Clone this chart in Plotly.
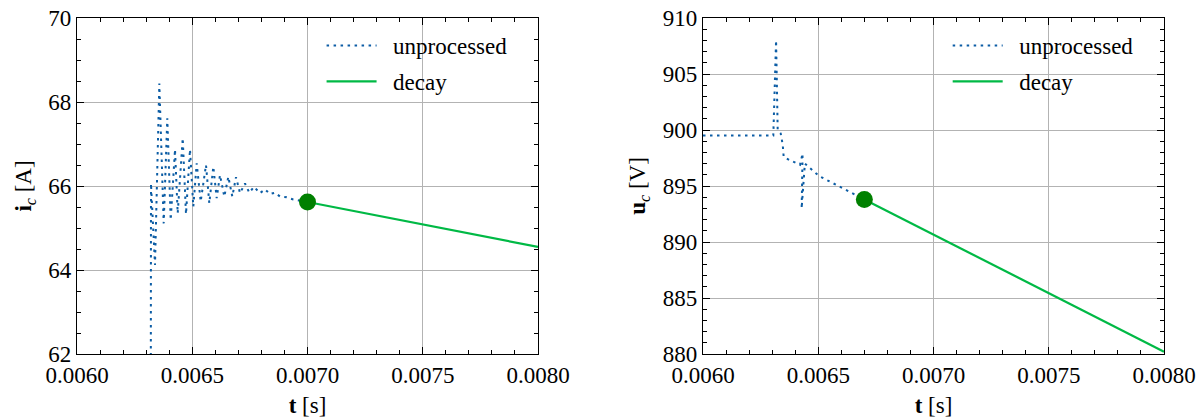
import plotly.graph_objects as go

# ---- capacitor current i_c ----
t_ic_raw = [0.00600, 0.00631, 0.0063210, 0.0063384, 0.0063572, 0.0063761, 0.0063918,
            0.0064065, 0.0064252, 0.0064369, 0.0064586, 0.0064729, 0.0064902, 0.0065046,
            0.0065193, 0.0065366, 0.0065597, 0.0065740, 0.0065914, 0.0066060, 0.0066204,
            0.0066391, 0.0066565, 0.0066738, 0.0066898, 0.0067072, 0.0067289, 0.0067475,
            0.0067679, 0.0067939, 0.0068156, 0.0068373, 0.0068590, 0.0068807, 0.0069097,
            0.0069384, 0.0069675, 0.0070000]
ic_raw = [0.0, 0.0, 66.06, 64.12, 68.44, 65.11, 67.61,
          65.19, 66.87, 65.35, 67.14, 65.33, 66.87, 65.51,
          66.54, 65.63, 66.50, 65.59, 66.46, 65.71, 66.26,
          65.75, 66.22, 65.75, 66.21, 65.83, 66.06, 65.84,
          65.98, 65.83, 65.92, 65.81, 65.84, 65.75, 65.73,
          65.68, 65.65, 65.62]
t_ic_decay = [0.0070, 0.0080]
ic_decay = [65.62, 64.55]
t_ic_start = [0.0070]
ic_start = [65.62]

# ---- capacitor voltage u_c ----
t_uc_raw = [0.00600, 0.006305, 0.006317, 0.006324, 0.006337, 0.006346, 0.006350,
            0.006377, 0.006421, 0.006432, 0.006428, 0.006442, 0.006503, 0.006594,
            0.006652, 0.006700]
uc_raw = [899.5, 899.5, 908.0, 900.0, 899.7, 898.66, 897.6,
          897.3, 896.9, 897.9, 893.0, 897.0, 895.9, 894.9,
          894.3, 893.8]
t_uc_decay = [0.0067, 0.0080]
uc_decay = [893.8, 880.2]
t_uc_start = [0.0067]
uc_start = [893.8]

BLUE = "#0C5DA5"
GREEN = "#00B945"
DOT = "#008000"
FONT = "'Liberation Serif', 'DejaVu Serif', serif"
FS = 23
GAP = "\u00a0\u00a0"

fig = go.Figure()

def add_panel(t_raw, y_raw, t_dec, y_dec, t_s, y_s, xa, ya, leg):
    fig.add_trace(go.Scatter(x=t_raw, y=y_raw, mode="lines", name=GAP + "unprocessed",
                             line=dict(color=BLUE, width=2, dash="2.5px,4.5px"),
                             xaxis=xa, yaxis=ya, legend=leg, legendgroup=leg + "a"))
    fig.add_trace(go.Scatter(x=t_dec, y=y_dec, mode="lines", name=GAP + "decay",
                             line=dict(color=GREEN, width=2.2),
                             xaxis=xa, yaxis=ya, legend=leg, legendgroup=leg + "b"))
    fig.add_trace(go.Scatter(x=t_s, y=y_s, mode="markers", showlegend=False,
                             marker=dict(color=DOT, size=17),
                             xaxis=xa, yaxis=ya))

add_panel(t_ic_raw, ic_raw, t_ic_decay, ic_decay, t_ic_start, ic_start, "x", "y", "legend")
add_panel(t_uc_raw, uc_raw, t_uc_decay, uc_decay, t_uc_start, uc_start, "x2", "y2", "legend2")

tick_font = dict(family=FONT, size=FS, color="black")

def axis_style(dtick, minor_dtick, rng):
    return dict(range=rng, dtick=dtick, showline=True, linecolor="black", linewidth=1.3,
                mirror="ticks", ticks="inside", ticklen=7, tickwidth=1.1, tickcolor="black",
                showgrid=True, gridcolor="#b3b3b3", gridwidth=1, zeroline=False,
                automargin=False,
                minor=dict(ticks="inside", ticklen=4, tickwidth=1, tickcolor="black",
                           dtick=minor_dtick, showgrid=False),
                tickfont=tick_font)

xt = dict(text="<b>t</b> [s]", font=dict(family=FONT, size=FS, color="black"), standoff=10)

fig.update_layout(
    width=1202, height=419,
    font=dict(family=FONT, size=FS, color="black"),
    margin=dict(l=77, r=38, t=18, b=65),
    paper_bgcolor="white", plot_bgcolor="white",
    xaxis=dict(domain=[0, 0.4241], anchor="y", tickformat=".4f", tick0=0.006,
               title=xt, **axis_style(0.0005, 0.0001, [0.006, 0.008])),
    yaxis=dict(domain=[0, 1], anchor="x",
               title=dict(text="<b>i</b><sub><i>c</i></sub> [A]",
                          font=dict(family=FONT, size=FS, color="black"), standoff=10),
               **axis_style(2, 0.5, [62, 70])),
    xaxis2=dict(domain=[0.5759, 1], anchor="y2", tickformat=".4f", tick0=0.006,
                title=xt, **axis_style(0.0005, 0.0001, [0.006, 0.008])),
    yaxis2=dict(domain=[0, 1], anchor="x2",
                title=dict(text="<b>u</b><sub><i>c</i></sub> [V]",
                           font=dict(family=FONT, size=FS, color="black"), standoff=10),
                **axis_style(5, 1, [880, 910])),
    legend=dict(x=0.225, y=0.982, xanchor="left", yanchor="top",
                bgcolor="rgba(0,0,0,0)", font=dict(family=FONT, size=FS, color="black"),
                itemwidth=50, tracegroupgap=3),
    legend2=dict(x=0.801, y=0.982, xanchor="left", yanchor="top",
                 bgcolor="rgba(0,0,0,0)", font=dict(family=FONT, size=FS, color="black"),
                 itemwidth=50, tracegroupgap=3),
)

fig.write_html("out.html")
